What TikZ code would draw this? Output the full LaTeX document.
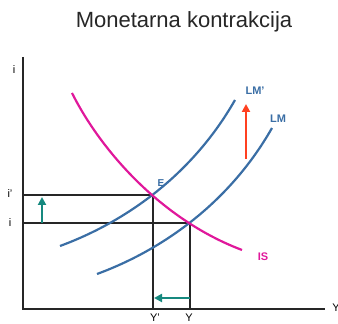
\documentclass[tikz,border=0pt]{standalone}
\usepackage{fontspec}
\setmainfont{Liberation Sans}
\usetikzlibrary{arrows.meta}
\definecolor{lmblue}{HTML}{3A6EA5}
\definecolor{ismag}{HTML}{E0189B}
\definecolor{shiftc}{HTML}{16897F}
\definecolor{pushc}{HTML}{FF4020}

\begin{document}
\begin{tikzpicture}[x=0.5pt,y=0.5pt,
  axis/.style={line width=1.1pt,black!85},
  guide/.style={line width=0.7pt,black!85},
  curve/.style={line width=1.1pt},
  lbl/.style={font=\fontsize{5.5}{6}\selectfont,inner sep=1pt},
  tag/.style={font=\fontsize{5.5}{6}\selectfont\bfseries,inner sep=1pt},
  move/.style={line width=1.1pt,-{Triangle[length=4pt,width=4pt]}}]
  \useasboundingbox (0,0) rectangle (338,324);

  % title
  \node[font=\fontsize{11}{12}\selectfont,text=black!85] (title) at (184,302) {Monetarna kontrakcija};

  % axes
  \coordinate (top) at (23,267);
  \coordinate (O) at (23,15);
  \coordinate (right) at (325,15);
  \draw[axis] (top) -- (O) -- (right);
  \node[lbl] (iax) at (14,254) {i};
  \node[lbl,anchor=west] (Yax) at (330,16) {Y};

  % equilibria
  \coordinate (E) at (153,129);
  \coordinate (E0) at (190,101);
  \coordinate (ip) at (23,129);
  \coordinate (i0) at (23,101);
  \coordinate (Yp) at (153,15);
  \coordinate (Y0) at (190,15);
  \draw[guide] (ip) -- (E) -- (Yp);
  \draw[guide] (i0) -- (E0) -- (Y0);
  \node[lbl] (lip) at (10,130) {i'};
  \node[lbl] (li) at (10,101) {i};
  \node[lbl] (lYp) at (155,6) {Y'};
  \node[lbl] (lY) at (189,6) {Y};
  \node[lbl,text=lmblue,font=\fontsize{5}{6}\selectfont\bfseries] (lE) at (161,141) {E};

  % curves
  \draw[curve,lmblue] (60,78) .. controls (120,100) and (190,145) .. (235,224);
  \begin{scope}[shift={(37,-28)}]
    \draw[curve,lmblue] (60,78) .. controls (120,100) and (190,145) .. (235,224);
  \end{scope}
  \draw[curve,ismag] (72,231) .. controls (100,175) and (160,105) .. (242,74);
  \node[tag,text=lmblue] (lLMp) at (255,233) {LM'};
  \node[tag,text=lmblue] (lLM) at (278,205) {LM};
  \node[tag,text=ismag] (lIS) at (263,67) {IS};

  % shifts
  \coordinate (redA) at (246,165);
  \coordinate (redB) at (246,220);
  \draw[move,pushc] (redA) -- (redB);
  \coordinate (upA) at (42,101);
  \coordinate (upB) at (42,127);
  \draw[move,shiftc] (upA) -- (upB);
  \coordinate (leftA) at (190,26);
  \coordinate (leftB) at (154,26);
  \draw[move,shiftc] (leftA) -- (leftB);
\end{tikzpicture}
\end{document}
